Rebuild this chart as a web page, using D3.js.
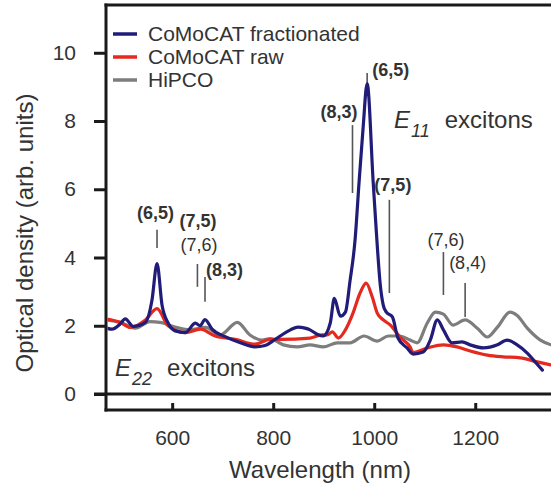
<!DOCTYPE html>
<html>
<head>
<meta charset="utf-8">
<script src="https://cdn.jsdelivr.net/npm/d3@7"></script>
<style>
  body { margin: 0; background: #fff; }
  svg text { font-family: "Liberation Sans", Arial, sans-serif; fill: #333; }
</style>
</head>
<body>
<svg id="chart" width="551" height="487"></svg>
<script>
// series data (wavelength nm, optical density)
var fracNm = [470, 481, 497, 507, 523, 547, 560, 570, 580, 592, 606, 626, 646, 655, 665, 679, 705, 735, 764, 784, 804, 834, 849, 863, 873, 887, 899, 913, 921, 933, 943, 952, 962, 970, 978, 986, 998, 1004, 1012, 1018, 1024, 1036, 1047, 1065, 1077, 1097, 1111, 1125, 1137, 1154, 1174, 1190, 1216, 1244, 1263, 1283, 1303, 1315, 1333];
var fracOD = [1.93, 1.9, 2.05, 2.2, 1.98, 2.1, 2.75, 3.82, 2.6, 2.08, 1.85, 1.8, 2.08, 2.0, 2.18, 1.9, 1.68, 1.5, 1.38, 1.42, 1.6, 1.88, 1.96, 1.93, 1.88, 1.75, 1.7, 2.08, 2.8, 2.28, 2.4, 3.3, 4.5, 6.2, 7.8, 9.1, 6.2, 4.8, 3.2, 2.6, 2.4, 2.26, 1.64, 1.35, 1.17, 1.23, 1.58, 2.17, 1.88, 1.5, 1.53, 1.44, 1.35, 1.44, 1.58, 1.44, 1.2, 1.0, 0.7];

var rawNm = [470, 497, 517, 547, 570, 592, 626, 656, 685, 725, 764, 794, 814, 873, 897, 907, 917, 929, 943, 958, 972, 984, 996, 1006, 1018, 1032, 1051, 1071, 1077, 1105, 1137, 1164, 1190, 1224, 1255, 1289, 1323, 1350];
var rawOD = [2.2, 2.1, 1.95, 2.17, 2.5, 2.0, 1.8, 1.9, 1.7, 1.6, 1.46, 1.6, 1.6, 1.64, 1.73, 1.73, 1.82, 1.64, 1.88, 2.37, 2.96, 3.25, 2.85, 2.37, 2.17, 2.02, 1.67, 1.38, 1.22, 1.35, 1.44, 1.38, 1.26, 1.14, 1.09, 1.06, 0.94, 0.85];

var hipNm = [470, 497, 527, 556, 576, 606, 636, 666, 695, 729, 754, 778, 794, 820, 848, 873, 899, 927, 952, 980, 1006, 1028, 1051, 1071, 1085, 1105, 1121, 1137, 1156, 1180, 1204, 1224, 1244, 1269, 1283, 1303, 1329, 1350];
var hipOD = [2.17, 2.1, 1.93, 2.12, 2.1, 1.96, 1.88, 1.95, 1.73, 2.1, 1.73, 1.58, 1.62, 1.44, 1.38, 1.44, 1.38, 1.5, 1.5, 1.7, 1.55, 1.7, 1.7, 1.58, 1.5, 2.08, 2.4, 2.34, 2.02, 2.17, 1.93, 1.67, 1.96, 2.4, 2.3, 1.93, 1.58, 1.44];

var seriesNames = ["CoMoCAT fractionated", "CoMoCAT raw", "HiPCO"];
var seriesColors = ["#211c78", "#e4291f", "#7d7d7d"];

var xTicks = [600, 800, 1000, 1200];
var yTicks = [0, 2, 4, 6, 8, 10];

// chirality assignments: wavelength, line span (OD), label, bold
var peakNm = [570, 650, 665, 957, 986, 1030, 1137, 1180];
var peakLo = [4.28, 3.14, 2.70, 5.89, 9.06, 2.96, 2.90, 2.26];
var peakHi = [4.81, 3.81, 3.43, 7.88, 9.41, 5.69, 4.16, 3.25];
var peakLabel = ["(6,5)", "(7,6)", "(8,3)", "(8,3)", "(6,5)", "(7,5)", "(7,6)", "(8,4)"];
var peakBold = [true, false, true, true, true, true, false, false];
// extra label with no line of its own
var extraLabel = "(7,5)";

var svg = d3.select("#chart");

var x = d3.scaleLinear().domain([469, 1350]).range([106, 551]);
var y = d3.scaleLinear().domain([0, 11.4]).range([394, 5]);

var axisColor = "#1a1a1a";

// y axis ticks + labels
var yAxis = svg.append("g")
    .attr("transform", "translate(106,0)")
    .call(d3.axisLeft(y).tickValues(yTicks).tickSize(12).tickPadding(18));
yAxis.select(".domain").remove();
yAxis.selectAll("line").attr("stroke", axisColor).attr("stroke-width", 3);
yAxis.selectAll("text").attr("font-size", 21).attr("fill", "#333")
    .attr("font-family", "Liberation Sans, Arial, sans-serif");

// x axis at bottom, ticks pointing up
var xAxis = svg.append("g")
    .attr("transform", "translate(0,410)")
    .call(d3.axisBottom(x).tickValues(xTicks).tickFormat(d3.format("d")).tickSize(-7).tickPadding(20));
xAxis.select(".domain").remove();
xAxis.selectAll("line").attr("stroke", axisColor).attr("stroke-width", 3);
xAxis.selectAll("text").attr("font-size", 21).attr("fill", "#333")
    .attr("font-family", "Liberation Sans, Arial, sans-serif");

// frame lines
svg.append("line").attr("x1", 104.5).attr("x2", 551).attr("y1", 5).attr("y2", 5)
    .attr("stroke", axisColor).attr("stroke-width", 3);
svg.append("line").attr("x1", 106).attr("x2", 106).attr("y1", 3.5).attr("y2", 411.5)
    .attr("stroke", axisColor).attr("stroke-width", 3);
svg.append("line").attr("x1", 104.5).attr("x2", 551).attr("y1", 410).attr("y2", 410)
    .attr("stroke", axisColor).attr("stroke-width", 3);
svg.append("line").attr("x1", 94).attr("x2", 551).attr("y1", y(0)).attr("y2", y(0))
    .attr("stroke", axisColor).attr("stroke-width", 3);

// axis titles
svg.append("text")
    .attr("x", 320).attr("y", 478)
    .attr("text-anchor", "middle")
    .attr("font-size", 24)
    .text("Wavelength (nm)");

svg.append("text")
    .attr("transform", "translate(33,233) rotate(-90)")
    .attr("text-anchor", "middle")
    .attr("font-size", 24)
    .text("Optical density (arb. units)");

// annotation lines
svg.append("clipPath").attr("id", "plotclip")
    .append("rect").attr("x", 107.5).attr("y", 6.5).attr("width", 460).attr("height", 386);

var annG = svg.append("g");
peakNm.forEach(function(nm, i) {
    annG.append("line")
        .attr("x1", x(nm)).attr("x2", x(nm))
        .attr("y1", y(peakHi[i])).attr("y2", y(peakLo[i]))
        .attr("stroke", "#555").attr("stroke-width", 1.6);
});

// curves
var line = d3.line()
    .x(function(d) { return x(d[0]); })
    .y(function(d) { return y(d[1]); })
    .curve(d3.curveMonotoneX);

var allSeries = [
    d3.zip(hipNm, hipOD),
    d3.zip(rawNm, rawOD),
    d3.zip(fracNm, fracOD)
];
var seriesIdx = [2, 1, 0]; // draw grey first, blue on top

var curveG = svg.append("g").attr("clip-path", "url(#plotclip)");
allSeries.forEach(function(s, i) {
    curveG.append("path")
        .datum(s)
        .attr("d", line)
        .attr("fill", "none")
        .attr("stroke", seriesColors[seriesIdx[i]])
        .attr("stroke-width", 3.2)
        .attr("stroke-linejoin", "round")
        .attr("stroke-linecap", "round");
});

// label placement relative to each line top (dx, dy from line top)
var labDx = [-20, -17, 1, -32, 5, -15, -16, -16];
var labDy = [-11, -13, -1, -7, 3, -9, -6, -14];
peakNm.forEach(function(nm, i) {
    annG.append("text")
        .attr("x", x(nm) + labDx[i]).attr("y", y(peakHi[i]) + labDy[i])
        .attr("font-size", 18)
        .attr("font-weight", peakBold[i] ? "bold" : "normal")
        .attr("fill", peakBold[i] ? "#222" : "#555")
        .text(peakLabel[i]);
});
annG.append("text")
    .attr("x", x(650) - 18).attr("y", y(3.81) - 37)
    .attr("font-size", 18).attr("font-weight", "bold").attr("fill", "#222")
    .text(extraLabel);

// exciton labels
function excitonLabel(px, py, sub) {
    var t = svg.append("text").attr("x", px).attr("y", py).attr("font-size", 24);
    t.append("tspan").attr("font-style", "italic").text("E");
    t.append("tspan").attr("font-style", "italic").attr("font-size", 18)
        .attr("dy", 9).attr("dx", 1).text(sub);
    t.append("tspan").attr("dy", -9).attr("dx", 15).text("excitons");
}
excitonLabel(394, 128, "11");
excitonLabel(115, 376, "22");

// legend
var leg = svg.append("g");
seriesNames.forEach(function(name, i) {
    leg.append("line")
        .attr("x1", 113).attr("x2", 137)
        .attr("y1", 34 + i * 23).attr("y2", 34 + i * 23)
        .attr("stroke", seriesColors[i]).attr("stroke-width", 3.5);
    leg.append("text")
        .attr("x", 148).attr("y", 41 + i * 23)
        .attr("font-size", 21)
        .text(name);
});
</script>
</body>
</html>
